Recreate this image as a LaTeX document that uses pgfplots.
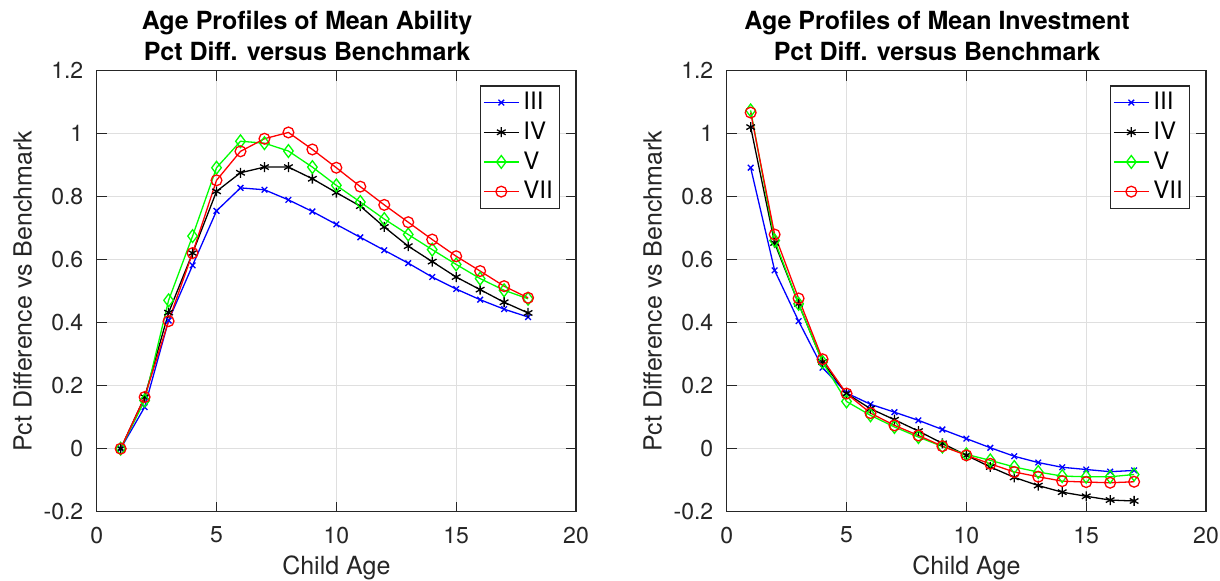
\documentclass[border=0pt]{standalone}
\usepackage{fontspec}
\setmainfont{TeX Gyre Heros}
\usepackage{pgfplots}
\usepackage{pgfplotstable}
\pgfplotsset{compat=1.18}

\definecolor{axgray}{RGB}{38,38,38}
\definecolor{gridgray}{RGB}{223,223,223}

% mean ability, pct diff vs benchmark
\pgfplotstableread{
age III IV V VII
1 0.000 0.000 0.000 0.000
2 0.132 0.164 0.153 0.164
3 0.407 0.432 0.471 0.405
4 0.582 0.621 0.675 0.621
5 0.755 0.817 0.892 0.852
6 0.828 0.876 0.976 0.944
7 0.822 0.894 0.970 0.984
8 0.790 0.894 0.945 1.004
9 0.753 0.857 0.894 0.950
10 0.712 0.813 0.836 0.892
11 0.671 0.770 0.783 0.832
12 0.630 0.704 0.729 0.774
13 0.589 0.643 0.680 0.719
14 0.545 0.594 0.632 0.664
15 0.507 0.545 0.585 0.611
16 0.473 0.505 0.540 0.564
17 0.443 0.465 0.503 0.516
18 0.418 0.431 0.476 0.479
}\ability

% mean investment, pct diff vs benchmark
\pgfplotstableread{
age III IV V VII
1 0.892 1.021 1.074 1.067
2 0.566 0.653 0.661 0.680
3 0.405 0.460 0.460 0.477
4 0.257 0.275 0.275 0.284
5 0.177 0.175 0.150 0.175
6 0.141 0.127 0.106 0.113
7 0.116 0.092 0.069 0.074
8 0.090 0.056 0.037 0.042
9 0.061 0.017 0.007 0.008
10 0.032 -0.021 -0.018 -0.021
11 0.003 -0.058 -0.037 -0.048
12 -0.024 -0.091 -0.058 -0.074
13 -0.044 -0.117 -0.074 -0.089
14 -0.059 -0.138 -0.087 -0.103
15 -0.066 -0.151 -0.089 -0.106
16 -0.073 -0.163 -0.089 -0.108
17 -0.069 -0.166 -0.082 -0.105
}\investment

\pgfplotsset{
  mlstyle/.style={
    scale only axis,
    width=239.65pt, height=220.5pt,
    xmin=0, xmax=20, ymin=-0.2, ymax=1.2,
    xtick={0,5,10,15,20},
    ytick={-0.2,0,0.2,0.4,0.6,0.8,1,1.2},
    yticklabels={-0.2,0,0.2,0.4,0.6,0.8,1,1.2},
    tick pos=both, tick align=inside,
    major tick length=5pt,
    axis line style={axgray, line width=0.6pt},
    major tick style={axgray, line width=0.6pt},
    grid=major,
    major grid style={gridgray, line width=0.6pt},
    /pgf/number format/assume math mode=true,
    ticklabel style={font=\fontsize{11.5}{13}\selectfont, text=axgray},
    yticklabel style={xshift=-3.2pt},
    xticklabel style={yshift=-4pt},
    xlabel={Child Age},
    ylabel={Pct Difference vs Benchmark},
    label style={font=\fontsize{12.5}{14}\selectfont, text=axgray},
    xlabel style={at={(axis description cs:0.5,0)}, anchor=base, yshift=-31.15pt},
    ylabel style={at={(axis description cs:0,0.5)}, anchor=base, yshift=32.5pt},
    legend cell align=left,
    legend style={at={(axis description cs:1,1)}, anchor=north east,
      xshift=-7.8pt, yshift=-7.3pt, draw=axgray, line width=0.6pt,
      font=\fontsize{12}{14}\selectfont, inner xsep=1.5pt, inner ysep=1.2pt,
      row sep=0.6pt},
    legend image code/.code={\draw[mark repeat=2,mark phase=2,#1]
      plot coordinates {(0pt,0pt) (8.75pt,0pt) (17.5pt,0pt)};},
    every axis plot/.append style={line width=0.65pt},
  },
  sIII/.style={color=blue, mark=x, mark size=2pt},
  sIV/.style={color=black, mark=asterisk, mark size=2.5pt},
  sV/.style={color=green, mark=diamond, mark size=3.2pt},
  sVII/.style={color=red, mark=o, mark size=2.7pt},
}

\begin{document}
\begin{tikzpicture}
\path[use as bounding box] (0,0) rectangle (610pt,290pt);

\begin{axis}[mlstyle, at={(48.35pt,34.15pt)}, anchor=south west]
\addplot[sIII] table[x=age, y=III] {\ability};
\addplot[sIV] table[x=age, y=IV] {\ability};
\addplot[sV] table[x=age, y=V] {\ability};
\addplot[sVII] table[x=age, y=VII] {\ability};
\legend{III, IV, V, VII}
\end{axis}

\begin{axis}[mlstyle, at={(363.35pt,34.15pt)}, anchor=south west]
\addplot[sIII] table[x=age, y=III] {\investment};
\addplot[sIV] table[x=age, y=IV] {\investment};
\addplot[sV] table[x=age, y=V] {\investment};
\addplot[sVII] table[x=age, y=VII] {\investment};
\legend{III, IV, V, VII}
\end{axis}

\begin{scope}[every node/.style={anchor=base, font=\fontsize{12.5}{14}\selectfont\bfseries}]
\node at (153.5pt,275.5pt) {Age Profiles of Mean Ability};
\node at (153.5pt,260pt) {Pct Diff. versus Benchmark};
\node at (468.5pt,275.5pt) {Age Profiles of Mean Investment};
\node at (468.5pt,260pt) {Pct Diff. versus Benchmark};
\end{scope}
\end{tikzpicture}
\end{document}
